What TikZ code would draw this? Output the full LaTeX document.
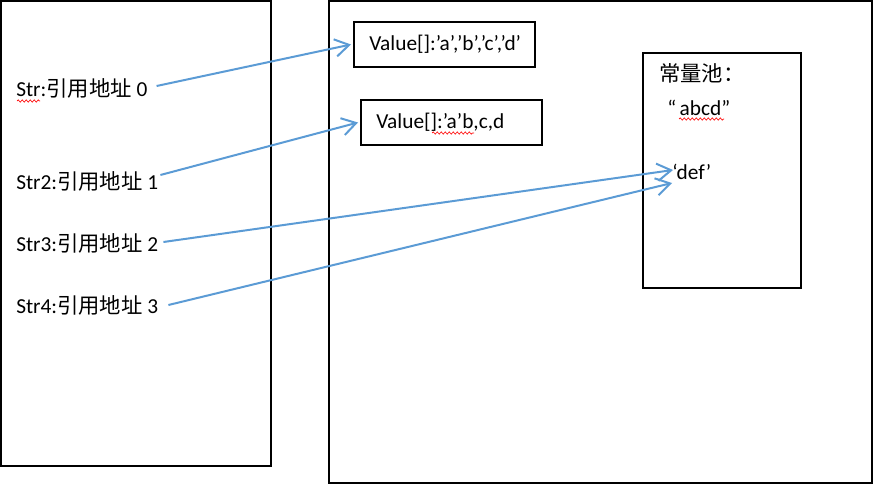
\documentclass[tikz,border=0pt]{standalone}
\usepackage{fontspec}
\setmainfont{Carlito}
\newfontfamily\cjk{Noto Sans CJK SC}
\usetikzlibrary{arrows.meta,calc,decorations.pathmorphing}
\definecolor{arrblue}{HTML}{5B9BD5}
\begin{document}
\begin{tikzpicture}[x=0.75pt,y=-0.75pt,
  frame/.style={draw=black,line width=1.5pt},
  txt/.style={inner sep=0pt,anchor=west,font=\fontsize{16pt}{19pt}\selectfont},
  vbox/.style={draw=black,line width=1.5pt,minimum width=135.75pt,minimum height=33.75pt,inner sep=0pt},
  arr/.style={draw=arrblue,line width=1.5pt,-{Straight Barb[length=10.5pt,width=13pt,line width=1.5pt]}},
  squig/.style={draw=red,line width=0.5pt,decorate,decoration={snake,segment length=3pt,amplitude=0.8pt}}]
\useasboundingbox (0,0) rectangle (873,485);
% frames
\draw[frame] (1,1) rectangle (271,466);
\draw[frame] (329,1) rectangle (872,483);
\draw[frame] (643,53) rectangle (801,288);
% left texts
\node[txt] (s0) at (16,88) {Str:{\cjk 引用地址} 0};
\node[txt] (s1) at (16,181) {Str2:{\cjk 引用地址} 1};
\node[txt] (s2) at (16,243) {Str3:{\cjk 引用地址} 2};
\node[txt] (s3) at (16,305) {Str4:{\cjk 引用地址} 3};
% value boxes
\node[vbox] (v1) at (444.5,44.5) {};
\node[txt] (v1t) at (369,44.5) {Value[]:’a’,’b’,’c’,’d’};
\node[vbox] (v2) at (451.5,122.5) {};
\node[txt] (v2t) at (376,122.5) {Value[]:’a’b,c,d};
% pool
\node[txt] (pool) at (659,73) {\cjk 常量池：};
\node[txt] (abcd) at (667,108) {“\,abcd”};
\node[txt] (def) at (672,172) {‘def’};
% spell-check marks
\draw[squig] (17,101) -- (40,101);
\draw[squig] (432,133) -- (474,133);
\draw[squig] (679,119) -- (724,119);
% arrows
\draw[arr] ([shift={(9,-2)}]s0.east) -- ([shift={(-2,0)}]v1.west);
\draw[arr] ([shift={(2,-6)}]s1.east) -- ([shift={(-2,0)}]v2.west);
\draw[arr] ([shift={(5,-1)}]s2.east) -- ([shift={(1,-2)}]def.west);
\draw[arr] ([shift={(10,0)}]s3.east) -- ([shift={(0,11)}]def.west);
\end{tikzpicture}
\end{document}
